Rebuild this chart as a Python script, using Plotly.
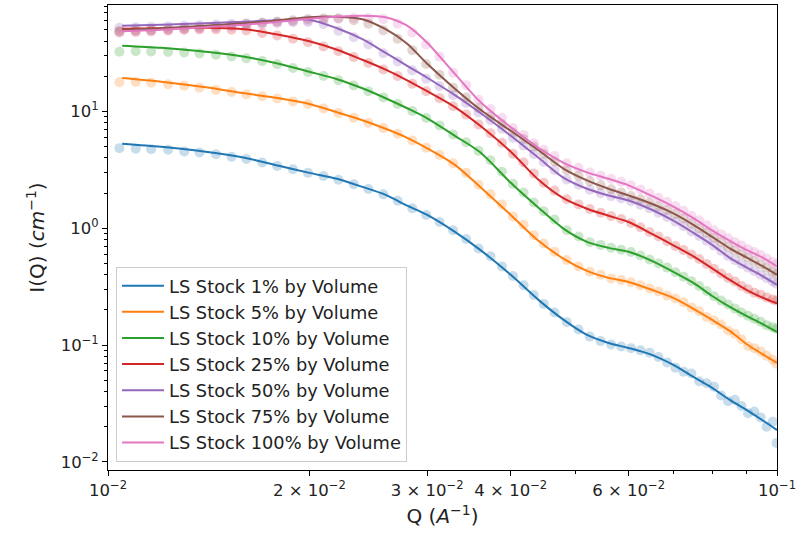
import plotly.graph_objects as go

# ---- data -------------------------------------------------------------
labels = ["LS Stock 1% by Volume", "LS Stock 5% by Volume", "LS Stock 10% by Volume",
          "LS Stock 25% by Volume", "LS Stock 50% by Volume", "LS Stock 75% by Volume",
          "LS Stock 100% by Volume"]
colors = ["#1f77b4", "#ff7f0e", "#2ca02c", "#d62728", "#9467bd", "#8c564b", "#e377c2"]

# model (fit) curves
q_fit = [0.0105, 0.012, 0.014, 0.016, 0.018, 0.02, 0.022, 0.024, 0.026, 0.028, 0.03, 0.033,
         0.036, 0.04, 0.044, 0.048, 0.052, 0.056, 0.06, 0.065, 0.07, 0.075, 0.08, 0.085,
         0.09, 0.095, 0.1]
fit_1 = [5.29, 4.98, 4.52, 4.01, 3.43, 2.98, 2.65, 2.26, 1.93, 1.56, 1.30, 0.931, 0.653, 0.399,
         0.2435, 0.164, 0.122, 0.1042, 0.0944, 0.0823, 0.0675, 0.0533, 0.0429, 0.0339, 0.0278,
         0.0228, 0.0187]
fit_5 = [19.3, 17.97, 16.1, 14.3, 12.98, 11.6, 9.84, 8.41, 7.11, 5.95, 4.84, 3.49, 2.26, 1.30,
         0.780, 0.547, 0.431, 0.376, 0.347, 0.297, 0.253, 0.204, 0.164, 0.132, 0.102, 0.0839,
         0.0702]
fit_10 = [36.6, 35.1, 32.5, 29.4, 25.6, 21.9, 18.9, 15.8, 12.98, 10.65, 8.74, 6.19, 4.47, 2.45,
          1.50, 0.988, 0.765, 0.679, 0.628, 0.526, 0.423, 0.340, 0.263, 0.212, 0.1776, 0.1517,
          0.1295]
fit_25 = [51.1, 51.6, 52.1, 50.6, 45.4, 39.9, 33.8, 27.7, 22.8, 18.5, 14.9, 10.9, 7.54, 4.52,
          2.60, 1.80, 1.47, 1.28, 1.13, 0.895, 0.714, 0.574, 0.453, 0.361, 0.297, 0.256, 0.227]
fit_50 = [54.3, 55.3, 57.0, 58.7, 60.5, 61.1, 51.6, 41.6, 31.8, 24.6, 19.45, 13.8, 9.75, 6.19,
          4.01, 2.70, 2.18, 1.91, 1.73, 1.44, 1.16, 0.913, 0.721, 0.558, 0.462, 0.391, 0.327]
fit_75 = [50.1, 51.6, 54.3, 57.0, 60.5, 64.2, 64.8, 61.7, 50.6, 38.0, 25.6, 15.65, 10.4, 6.83,
          4.65, 3.23, 2.57, 2.18, 1.91, 1.62, 1.34, 1.07, 0.844, 0.673, 0.563, 0.476, 0.399]
fit_100 = [48.7, 50.1, 52.7, 55.3, 58.7, 62.3, 64.8, 66.1, 64.2, 54.3, 38.8, 21.0, 12.1, 7.32,
           4.89, 3.63, 3.01, 2.65, 2.33, 1.89, 1.53, 1.22, 0.959, 0.780, 0.653, 0.563, 0.472]

# measured data points
q_data = [0.0104, 0.0110, 0.0116, 0.0123, 0.0130, 0.0137, 0.0145, 0.0153, 0.0161, 0.0170,
          0.0179, 0.0189, 0.0199, 0.0210, 0.0221, 0.0233, 0.0245, 0.0258, 0.0271, 0.0285,
          0.0299, 0.0313, 0.0328, 0.0343, 0.0358, 0.0373, 0.0388, 0.0403, 0.0418, 0.0433,
          0.0448, 0.0465, 0.0485, 0.0505, 0.0525, 0.0545, 0.0565, 0.0585, 0.0605, 0.0625,
          0.0645, 0.0665, 0.0685, 0.0705, 0.0725, 0.0745, 0.0765, 0.0785, 0.0805, 0.0825,
          0.0845, 0.0865, 0.0885, 0.0905, 0.0925, 0.0945, 0.0965, 0.0985, 0.0998]
data_1 = [4.85, 4.8, 4.75, 4.7, 4.55, 4.45, 4.3, 4.1, 3.92, 3.65, 3.42, 3.2, 2.98, 2.80, 2.60,
          2.38, 2.17, 1.95, 1.72, 1.48, 1.30, 1.13, 0.96, 0.81, 0.67, 0.575, 0.47, 0.39, 0.325,
          0.268, 0.225, 0.19, 0.157, 0.136, 0.118, 0.108, 0.101, 0.097, 0.094, 0.09, 0.086,
          0.079, 0.071, 0.064, 0.059, 0.057, 0.049, 0.047, 0.044, 0.037, 0.033, 0.034, 0.030,
          0.026, 0.027, 0.024, 0.020, 0.022, 0.0145]
data_5 = [17.8, 17.9, 17.6, 17.1, 16.6, 16.0, 15.3, 14.7, 14.0, 13.5, 12.9, 12.2, 11.6, 10.6,
          9.7, 8.85, 8.0, 7.2, 6.45, 5.65, 4.9, 4.25, 3.6, 2.98, 2.36, 1.95, 1.6, 1.26, 1.07,
          0.87, 0.74, 0.63, 0.535, 0.47, 0.425, 0.40, 0.372, 0.36, 0.345, 0.325, 0.305, 0.287,
          0.265, 0.25, 0.232, 0.21, 0.195, 0.174, 0.162, 0.15, 0.133, 0.125, 0.112, 0.098,
          0.094, 0.088, 0.081, 0.075, 0.069]
data_10 = [32.5, 32.8, 32.6, 32.3, 32.0, 31.4, 30.6, 29.6, 28.5, 27.0, 25.4, 23.6, 21.8, 20.1,
           18.5, 16.7, 14.9, 13.2, 11.6, 10.1, 8.8, 7.6, 6.35, 5.45, 4.6, 3.82, 3.05, 2.4, 2.02,
           1.66, 1.40, 1.19, 0.96, 0.85, 0.76, 0.72, 0.68, 0.655, 0.625, 0.585, 0.54, 0.50,
           0.46, 0.42, 0.385, 0.352, 0.32, 0.29, 0.262, 0.24, 0.222, 0.205, 0.19, 0.178, 0.168,
           0.158, 0.148, 0.142, 0.138]
data_25 = [48.5, 49.0, 49.5, 50.0, 50.3, 50.5, 50.5, 50.2, 49.5, 47.0, 44.8, 42.0, 39.2, 36.0,
           32.8, 29.2, 26.0, 22.9, 20.1, 17.3, 14.9, 13.0, 11.1, 9.4, 7.75, 6.5, 5.4, 4.35, 3.65,
           2.95, 2.45, 2.1, 1.77, 1.6, 1.46, 1.36, 1.27, 1.2, 1.11, 1.02, 0.93, 0.85, 0.775,
           0.705, 0.65, 0.595, 0.545, 0.495, 0.45, 0.41, 0.375, 0.35, 0.32, 0.30, 0.28, 0.27,
           0.255, 0.245, 0.24]
data_50 = [52.0, 52.5, 53.0, 53.5, 54.2, 54.8, 55.5, 56.2, 57.0, 57.8, 58.4, 58.6, 58.5, 56.0,
           49.0, 43.2, 37.5, 31.5, 26.8, 22.5, 19.1, 16.5, 13.8, 11.8, 9.8, 8.4, 7.1, 5.95, 5.1,
           4.3, 3.7, 3.15, 2.62, 2.36, 2.14, 2.0, 1.88, 1.8, 1.70, 1.59, 1.48, 1.36, 1.25, 1.14,
           1.04, 0.94, 0.86, 0.78, 0.71, 0.64, 0.58, 0.535, 0.495, 0.46, 0.43, 0.40, 0.375,
           0.35, 0.335]
data_75 = [48.5, 49.0, 49.5, 50.5, 51.5, 52.3, 53.5, 54.5, 55.8, 57.2, 58.7, 60.5, 62.0, 62.5,
           62.5, 60.5, 56.5, 49.5, 42.0, 33.5, 25.5, 20.6, 16.0, 13.2, 10.7, 9.1, 7.8, 6.6, 5.8,
           5.0, 4.35, 3.75, 3.15, 2.82, 2.53, 2.33, 2.16, 2.02, 1.89, 1.77, 1.66, 1.54, 1.43,
           1.32, 1.21, 1.10, 1.0, 0.915, 0.83, 0.76, 0.695, 0.645, 0.60, 0.56, 0.525, 0.49,
           0.458, 0.425, 0.405]
data_100 = [47.0, 47.5, 48.0, 48.8, 49.8, 50.8, 51.8, 52.8, 53.8, 55.2, 56.6, 58.3, 60.0, 61.3,
            62.5, 63.2, 63.0, 61.8, 56.5, 47.5, 37.5, 29.5, 21.5, 16.8, 12.6, 10.5, 8.8, 7.2,
            6.3, 5.35, 4.7, 4.15, 3.6, 3.3, 3.0, 2.82, 2.65, 2.5, 2.33, 2.15, 1.98, 1.82, 1.68,
            1.54, 1.41, 1.28, 1.17, 1.06, 0.96, 0.89, 0.82, 0.76, 0.71, 0.66, 0.625, 0.59,
            0.55, 0.515, 0.49]

fits = [fit_1, fit_5, fit_10, fit_25, fit_50, fit_75, fit_100]
datas = [data_1, data_5, data_10, data_25, data_50, data_75, data_100]

x_tickvals = [0.01, 0.02, 0.03, 0.04, 0.06, 0.1]
x_ticktext = ["10<sup>−2</sup>", "2 × 10<sup>−2</sup>", "3 × 10<sup>−2</sup>",
              "4 × 10<sup>−2</sup>", "6 × 10<sup>−2</sup>", "10<sup>−1</sup>"]
x_minor = [0.05, 0.07, 0.08, 0.09]
y_tickvals = [0.01, 0.1, 1, 10]
y_ticktext = ["10<sup>−2</sup>", "10<sup>−1</sup>", "10<sup>0</sup>", "10<sup>1</sup>"]
y_minor = [m * d for d in (0.01, 0.1, 1, 10) for m in range(2, 10)]

# ---- figure -----------------------------------------------------------
fig = go.Figure()
for lab, col, dat in zip(labels, colors, datas):
    fig.add_trace(go.Scatter(x=q_data, y=dat, mode="markers", showlegend=False,
                             hoverinfo="skip",
                             marker=dict(color=col, size=10, opacity=0.25,
                                         line=dict(width=0))))
for lab, col, fit in zip(labels, colors, fits):
    fig.add_trace(go.Scatter(x=q_fit, y=fit, mode="lines", name=lab,
                             line=dict(color=col, width=2, shape="spline", smoothing=0.8)))

font = dict(family="DejaVu Sans", size=16.5, color="#222222")
fig.update_layout(
    width=796, height=540,
    margin=dict(l=108, r=19, t=5, b=70, autoexpand=False),
    paper_bgcolor="white", plot_bgcolor="white",
    font=font,
    legend=dict(x=0.012, y=0.018, xanchor="left", yanchor="bottom",
                bgcolor="rgba(255,255,255,0.8)", bordercolor="#cccccc", borderwidth=1,
                font=dict(family="DejaVu Sans", size=17.8, color="#222222"),
                itemwidth=42),
    xaxis=dict(type="log", range=[-2, -1], showgrid=False, zeroline=False,
               showline=True, linecolor="black", linewidth=1, mirror=True,
               automargin=False,
               ticks="outside", ticklen=5, tickwidth=1, tickcolor="black",
               tickmode="array", tickvals=x_tickvals, ticktext=x_ticktext,
               ticklabeloverflow="allow",
               minor=dict(tickmode="array", tickvals=x_minor, ticks="outside",
                          ticklen=3, tickcolor="black", showgrid=False),
               title=dict(text="Q (<i>A</i><sup>−1</sup>)", standoff=10)),
    yaxis=dict(type="log", range=[-2.0703, 1.9117], showgrid=False, zeroline=False,
               showline=True, linecolor="black", linewidth=1, mirror=True,
               automargin=False,
               ticks="outside", ticklen=5, tickwidth=1, tickcolor="black",
               tickmode="array", tickvals=y_tickvals, ticktext=y_ticktext,
               ticklabeloverflow="allow",
               minor=dict(tickmode="array", tickvals=y_minor, ticks="outside",
                          ticklen=3, tickcolor="black", showgrid=False),
               title=dict(text="I(Q) (<i>cm</i><sup>−1</sup>)", standoff=10)),
)

fig.write_html("out.html")
